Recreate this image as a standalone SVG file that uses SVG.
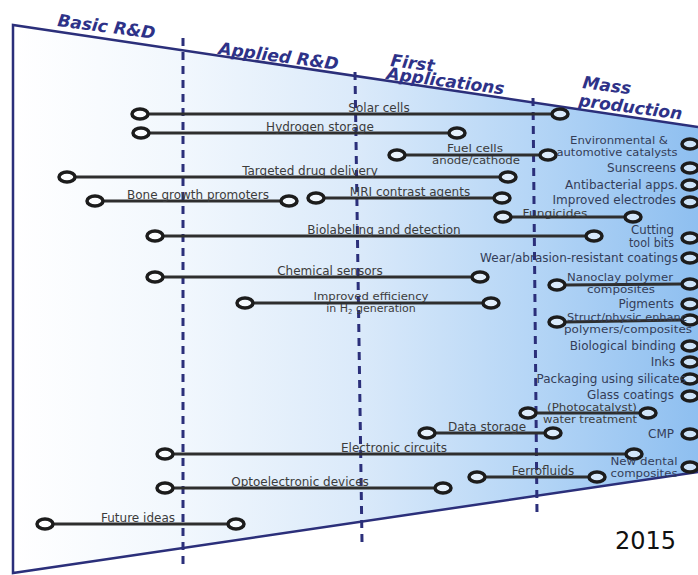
<svg xmlns="http://www.w3.org/2000/svg" width="698" height="575" viewBox="0 0 698 575">
  <defs>
    <linearGradient id="bg" gradientUnits="userSpaceOnUse" x1="13" y1="0" x2="698" y2="0">
      <stop offset="0" stop-color="#ffffff"/>
      <stop offset="0.25" stop-color="#f1f7fd"/>
      <stop offset="0.5" stop-color="#dbeafa"/>
      <stop offset="0.75" stop-color="#b6d6f6"/>
      <stop offset="1" stop-color="#8ebff0"/>
    </linearGradient>
    <style>
      .edge { fill: none; stroke: #2b2f7a; stroke-width: 2.5; }
      .phase { fill: none; stroke: #2b2f7a; stroke-width: 3; stroke-dasharray: 8 6; }
      .bar { stroke: #2e2e2e; stroke-width: 3; }
      .ring { fill: #ffffff; fill-opacity: 0.55; stroke: #1c1c1c; stroke-width: 3.5; }
      .hdr { font-family: "DejaVu Sans", sans-serif; font-weight: bold; font-style: italic; font-size: 17px; fill: #2e3288; }
      .lbl { font-family: "DejaVu Sans", sans-serif; font-size: 12px; fill: #3c3c3c; text-anchor: middle; }
      .app { font-family: "DejaVu Sans", sans-serif; font-size: 12px; fill: #343d58; text-anchor: end; }
      .app2 { font-family: "DejaVu Sans", sans-serif; font-size: 11px; fill: #343d58; text-anchor: middle; }
      .two { font-size: 11px; }
    </style>
  </defs>

  <!-- funnel background -->
  <polygon points="13,25 698,127 698,472 13,573" fill="url(#bg)"/>
  <polyline class="edge" points="698,127 13,25 13,573 698,472"/>

  <!-- phase boundaries -->
  <g id="phases">
    <line class="phase" x1="183" y1="38" x2="183" y2="570"/>
    <line class="phase" x1="355" y1="72" x2="362" y2="542"/>
    <line class="phase" x1="533" y1="98" x2="537" y2="514"/>
  </g>

  <!-- phase titles -->
  <g id="titles">
    <text class="hdr" transform="translate(57,26) rotate(7.5)">Basic R&amp;D</text>
    <text class="hdr" transform="translate(218,54) rotate(7.5)">Applied R&amp;D</text>
    <text class="hdr" transform="translate(390,66) rotate(7.5)">First</text>
    <text class="hdr" transform="translate(386,79) rotate(7.5)">Applications</text>
    <text class="hdr" transform="translate(582,88) rotate(7.5)">Mass</text>
    <text class="hdr" transform="translate(578,106) rotate(7.5)">production</text>
  </g>

  <!-- development spans -->
  <g id="connectors">
    <line class="bar" x1="148" y1="114" x2="552" y2="114"/>
    <line class="bar" x1="149" y1="133" x2="449" y2="133"/>
    <line class="bar" x1="405" y1="155" x2="540" y2="155"/>
    <line class="bar" x1="75" y1="177" x2="500" y2="177"/>
    <line class="bar" x1="103" y1="201" x2="281" y2="201"/>
    <line class="bar" x1="324" y1="198" x2="494" y2="198"/>
    <line class="bar" x1="511" y1="217" x2="625" y2="217"/>
    <line class="bar" x1="163" y1="236" x2="586" y2="236"/>
    <line class="bar" x1="163" y1="277" x2="472" y2="277"/>
    <line class="bar" x1="253" y1="303" x2="483" y2="303"/>
    <line class="bar" x1="565" y1="285" x2="682" y2="284"/>
    <line class="bar" x1="565" y1="322" x2="682" y2="320"/>
    <line class="bar" x1="536" y1="413" x2="640" y2="413"/>
    <line class="bar" x1="435" y1="433" x2="545" y2="433"/>
    <line class="bar" x1="173" y1="454" x2="626" y2="454"/>
    <line class="bar" x1="485" y1="477" x2="589" y2="477"/>
    <line class="bar" x1="173" y1="488" x2="435" y2="488"/>
    <line class="bar" x1="53" y1="524" x2="228" y2="524"/>
  </g>

  <g id="solar-cells">
    <ellipse class="ring" cx="140" cy="114" rx="8" ry="5"/>
    <ellipse class="ring" cx="560" cy="114" rx="8" ry="5"/>
    <text class="lbl" x="379" y="112">Solar cells</text>
  </g>
  <g id="hydrogen-storage">
    <ellipse class="ring" cx="141" cy="133" rx="8" ry="5"/>
    <ellipse class="ring" cx="457" cy="133" rx="8" ry="5"/>
    <text class="lbl" x="320" y="131">Hydrogen storage</text>
  </g>
  <g id="fuel-cells">
    <ellipse class="ring" cx="397" cy="155" rx="8" ry="5"/>
    <ellipse class="ring" cx="548" cy="155" rx="8" ry="5"/>
    <text class="lbl two" x="475" y="152" textLength="56" lengthAdjust="spacingAndGlyphs">Fuel cells</text>
    <text class="lbl two" x="476" y="164" textLength="88" lengthAdjust="spacingAndGlyphs">anode/cathode</text>
  </g>
  <g id="targeted-drug-delivery">
    <ellipse class="ring" cx="67" cy="177" rx="8" ry="5"/>
    <ellipse class="ring" cx="508" cy="177" rx="8" ry="5"/>
    <text class="lbl" x="310" y="175">Targeted drug delivery</text>
  </g>
  <g id="bone-growth-promoters">
    <ellipse class="ring" cx="95" cy="201" rx="8" ry="5"/>
    <ellipse class="ring" cx="289" cy="201" rx="8" ry="5"/>
    <text class="lbl" x="198" y="199">Bone growth promoters</text>
  </g>
  <g id="mri-contrast-agents">
    <ellipse class="ring" cx="316" cy="198" rx="8" ry="5"/>
    <ellipse class="ring" cx="502" cy="198" rx="8" ry="5"/>
    <text class="lbl" x="410" y="196">MRI contrast agents</text>
  </g>
  <g id="fungicides">
    <ellipse class="ring" cx="503" cy="217" rx="8" ry="5"/>
    <ellipse class="ring" cx="633" cy="217" rx="8" ry="5"/>
    <text class="lbl two" x="555" y="217" textLength="65" lengthAdjust="spacingAndGlyphs">Fungicides</text>
  </g>
  <g id="biolabeling">
    <ellipse class="ring" cx="155" cy="236" rx="8" ry="5"/>
    <ellipse class="ring" cx="594" cy="236" rx="8" ry="5"/>
    <text class="lbl" x="384" y="234">Biolabeling and detection</text>
  </g>
  <g id="chemical-sensors">
    <ellipse class="ring" cx="155" cy="277" rx="8" ry="5"/>
    <ellipse class="ring" cx="480" cy="277" rx="8" ry="5"/>
    <text class="lbl" x="330" y="275">Chemical sensors</text>
  </g>
  <g id="h2-generation">
    <ellipse class="ring" cx="245" cy="303" rx="8" ry="5"/>
    <ellipse class="ring" cx="491" cy="303" rx="8" ry="5"/>
    <text class="lbl two" x="371" y="300" textLength="115" lengthAdjust="spacingAndGlyphs">Improved efficiency</text>
    <text class="lbl two" x="371" y="312">in H<tspan font-size="7" dy="2">2</tspan><tspan dy="-2"> generation</tspan></text>
  </g>
  <g id="nanoclay-composites">
    <ellipse class="ring" cx="557" cy="285" rx="8" ry="5"/>
    <ellipse class="ring" cx="690" cy="284" rx="8" ry="5"/>
    <text class="app2" x="620" y="281" textLength="106" lengthAdjust="spacingAndGlyphs">Nanoclay polymer</text>
    <text class="app2" x="621" y="293" textLength="68" lengthAdjust="spacingAndGlyphs">composites</text>
  </g>
  <g id="struct-physic">
    <ellipse class="ring" cx="557" cy="322" rx="8" ry="5"/>
    <ellipse class="ring" cx="690" cy="320" rx="8" ry="5"/>
    <text class="app2" x="627" y="321" textLength="120" lengthAdjust="spacingAndGlyphs">Struct/physic enhanc</text>
    <text class="app2" x="628" y="333" textLength="128" lengthAdjust="spacingAndGlyphs">polymers/composites</text>
  </g>
  <g id="photocatalyst">
    <ellipse class="ring" cx="528" cy="413" rx="8" ry="5"/>
    <ellipse class="ring" cx="648" cy="413" rx="8" ry="5"/>
    <text class="lbl two" x="592" y="411" textLength="90" lengthAdjust="spacingAndGlyphs">(Photocatalyst)</text>
    <text class="lbl two" x="590" y="423" textLength="94" lengthAdjust="spacingAndGlyphs">water treatment</text>
  </g>
  <g id="data-storage">
    <ellipse class="ring" cx="427" cy="433" rx="8" ry="5"/>
    <ellipse class="ring" cx="553" cy="433" rx="8" ry="5"/>
    <text class="lbl" x="487" y="431">Data storage</text>
  </g>
  <g id="electronic-circuits">
    <ellipse class="ring" cx="165" cy="454" rx="8" ry="5"/>
    <ellipse class="ring" cx="634" cy="454" rx="8" ry="5"/>
    <text class="lbl" x="394" y="452">Electronic circuits</text>
  </g>
  <g id="ferrofluids">
    <ellipse class="ring" cx="477" cy="477" rx="8" ry="5"/>
    <ellipse class="ring" cx="597" cy="477" rx="8" ry="5"/>
    <text class="lbl" x="543" y="475">Ferrofluids</text>
  </g>
  <g id="optoelectronic-devices">
    <ellipse class="ring" cx="165" cy="488" rx="8" ry="5"/>
    <ellipse class="ring" cx="443" cy="488" rx="8" ry="5"/>
    <text class="lbl" x="300" y="486">Optoelectronic devices</text>
  </g>
  <g id="future-ideas">
    <ellipse class="ring" cx="45" cy="524" rx="8" ry="5"/>
    <ellipse class="ring" cx="236" cy="524" rx="8" ry="5"/>
    <text class="lbl" x="138" y="522">Future ideas</text>
  </g>

  <!-- products already in mass production -->
  <g id="catalysts">
    <ellipse class="ring" cx="690" cy="144" rx="8" ry="5"/>
    <text class="app2" x="619" y="144" textLength="98" lengthAdjust="spacingAndGlyphs">Environmental &amp;</text>
    <text class="app2" x="617" y="156" textLength="121" lengthAdjust="spacingAndGlyphs">automotive catalysts</text>
  </g>
  <g id="sunscreens">
    <ellipse class="ring" cx="690" cy="168" rx="8" ry="5"/>
    <text class="app" x="676" y="172">Sunscreens</text>
  </g>
  <g id="antibacterial">
    <ellipse class="ring" cx="690" cy="185" rx="8" ry="5"/>
    <text class="app" x="678" y="189">Antibacterial apps.</text>
  </g>
  <g id="electrodes">
    <ellipse class="ring" cx="690" cy="202" rx="8" ry="5"/>
    <text class="app" x="676" y="204">Improved electrodes</text>
  </g>
  <g id="cutting-tools">
    <ellipse class="ring" cx="690" cy="238" rx="8" ry="5"/>
    <text class="app" x="674" y="234" font-size="11" textLength="43" lengthAdjust="spacingAndGlyphs">Cutting</text>
    <text class="app" x="674" y="247" font-size="11" textLength="45" lengthAdjust="spacingAndGlyphs">tool bits</text>
  </g>
  <g id="wear-coatings">
    <ellipse class="ring" cx="690" cy="258" rx="8" ry="5"/>
    <text class="app" x="678" y="262">Wear/abrasion-resistant coatings</text>
  </g>
  <g id="pigments">
    <ellipse class="ring" cx="690" cy="304" rx="8" ry="5"/>
    <text class="app" x="674" y="308">Pigments</text>
  </g>
  <g id="biological-binding">
    <ellipse class="ring" cx="690" cy="346" rx="8" ry="5"/>
    <text class="app" x="676" y="350">Biological binding</text>
  </g>
  <g id="inks">
    <ellipse class="ring" cx="690" cy="362" rx="8" ry="5"/>
    <text class="app" x="675" y="366">Inks</text>
  </g>
  <g id="packaging">
    <ellipse class="ring" cx="690" cy="379" rx="8" ry="5"/>
    <text class="app" x="686" y="383">Packaging using silicates</text>
  </g>
  <g id="glass-coatings">
    <ellipse class="ring" cx="690" cy="396" rx="8" ry="5"/>
    <text class="app" x="674" y="399">Glass coatings</text>
  </g>
  <g id="cmp">
    <ellipse class="ring" cx="690" cy="434" rx="8" ry="5"/>
    <text class="app" x="674" y="438">CMP</text>
  </g>
  <g id="dental-composites">
    <ellipse class="ring" cx="690" cy="467" rx="8" ry="5"/>
    <text class="app2" x="644" y="465" textLength="67" lengthAdjust="spacingAndGlyphs">New dental</text>
    <text class="app2" x="644" y="477" textLength="67" lengthAdjust="spacingAndGlyphs">composites</text>
  </g>

  <text x="615" y="549" font-family="DejaVu Sans, sans-serif" font-size="24" fill="#111111">2015</text>
</svg>
